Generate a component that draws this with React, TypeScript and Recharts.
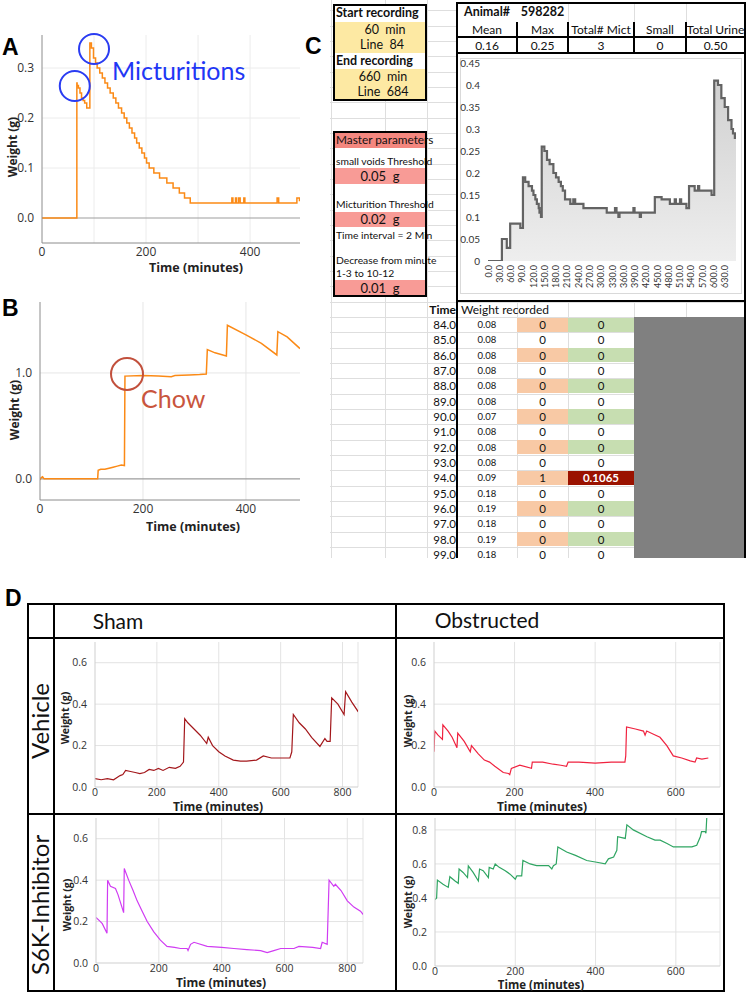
'use client'
import React from 'react'
import { LineChart, Line, AreaChart, Area, XAxis, YAxis, ReferenceLine, ReferenceDot } from 'recharts'

// panel A – one recording, two micturitions
const aTime = [0, 67, 67.5, 70, 73, 76, 79, 82, 86, 90, 92, 95, 99, 103, 106, 111, 116, 121, 126, 131, 137, 142, 147, 153, 158, 163, 168, 173, 178, 182, 187, 192, 197, 201, 206, 215, 226, 240, 252, 264, 274, 285, 365, 367, 372, 374, 378, 381, 388, 390, 452, 455, 490, 495, 500]
const aWeight = [0, 0.27, 0.265, 0.26, 0.25, 0.24, 0.235, 0.23, 0.22, 0.22, 0.35, 0.34, 0.32, 0.31, 0.3, 0.29, 0.28, 0.27, 0.26, 0.25, 0.24, 0.23, 0.22, 0.21, 0.2, 0.19, 0.18, 0.17, 0.16, 0.15, 0.14, 0.13, 0.12, 0.11, 0.1, 0.09, 0.08, 0.07, 0.06, 0.05, 0.04, 0.03, 0.04, 0.03, 0.04, 0.03, 0.04, 0.03, 0.04, 0.03, 0.04, 0.03, 0.04, 0.035, 0.04]

// panel B – chow dropped on the scale
const bTime = [0, 2, 5, 8, 112, 113, 118, 126, 134, 142, 150, 158, 164, 165, 200, 230, 255, 262, 290, 310, 323, 325, 340, 362, 364, 400, 430, 460, 462, 480, 505]
const bWeight = [-0.01, 0.01, 0.02, 0, 0, 0.08, 0.09, 0.09, 0.1, 0.11, 0.12, 0.13, 0.125, 0.97, 0.975, 0.97, 0.965, 0.975, 0.98, 0.985, 0.99, 1.22, 1.19, 1.16, 1.45, 1.36, 1.28, 1.17, 1.39, 1.34, 1.23]

// panel C – spreadsheet chart
const cTime = [0, 37, 50, 59, 86, 93, 99, 108, 117, 121, 126, 130, 135, 137, 141, 143, 150, 157, 164, 174, 181, 188, 194, 199, 205, 219, 227, 232, 254, 316, 338, 342, 347, 350, 387, 390, 404, 407, 444, 462, 484, 497, 500, 511, 514, 528, 535, 550, 559, 562, 595, 602, 612, 621, 630, 639, 648, 652, 657, 660]
const cWeight = [0, 0.05, 0.03, 0.085, 0.075, 0.19, 0.18, 0.17, 0.16, 0.15, 0.14, 0.13, 0.12, 0.11, 0.1, 0.26, 0.25, 0.23, 0.22, 0.2, 0.19, 0.18, 0.17, 0.16, 0.14, 0.13, 0.14, 0.13, 0.12, 0.11, 0.12, 0.11, 0.1, 0.11, 0.12, 0.11, 0.1, 0.11, 0.145, 0.14, 0.13, 0.14, 0.13, 0.14, 0.13, 0.12, 0.17, 0.16, 0.17, 0.16, 0.15, 0.41, 0.4, 0.37, 0.35, 0.32, 0.3, 0.29, 0.28, 0.28]
const cTicksX = [0, 30, 60, 90, 120, 150, 180, 210, 240, 270, 300, 330, 360, 390, 420, 450, 480, 510, 540, 570, 600, 630]
const cTicksY = [0, 0.05, 0.1, 0.15, 0.2, 0.25, 0.3, 0.35, 0.4, 0.45]

const summaryHeads = ['Mean', 'Max', 'Total# Mict', 'Small', 'Total Urine']
const summaryVals = ['0.16', '0.25', '3', '0', '0.50']
const tblTime = [84, 85, 86, 87, 88, 89, 90, 91, 92, 93, 94, 95, 96, 97, 98, 99]
const tblWeight = [0.08, 0.08, 0.08, 0.08, 0.08, 0.08, 0.07, 0.08, 0.08, 0.08, 0.09, 0.18, 0.19, 0.18, 0.19, 0.18]
const tblFlag = [0, 0, 0, 0, 0, 0, 0, 0, 0, 0, 1, 0, 0, 0, 0, 0]
const tblVolume = ['0', '0', '0', '0', '0', '0', '0', '0', '0', '0', '0.1065', '0', '0', '0', '0', '0']

// panel D – four groups
const d1Time = [0, 20, 40, 60, 81, 90, 99, 115, 130, 145, 160, 175, 190, 205, 220, 240, 260, 275, 286, 290, 300, 320, 340, 361, 366, 380, 400, 420, 447, 470, 490, 522, 544, 570, 600, 630, 636, 641, 660, 680, 700, 727, 743, 750, 760, 765, 785, 805, 810, 830, 851]
const d1Weight = [0.04, 0.035, 0.04, 0.035, 0.055, 0.06, 0.08, 0.075, 0.07, 0.065, 0.07, 0.085, 0.08, 0.09, 0.08, 0.095, 0.09, 0.1, 0.12, 0.33, 0.31, 0.28, 0.25, 0.21, 0.24, 0.2, 0.17, 0.15, 0.13, 0.125, 0.125, 0.13, 0.15, 0.14, 0.14, 0.14, 0.17, 0.35, 0.31, 0.28, 0.24, 0.196, 0.234, 0.22, 0.22, 0.43, 0.4, 0.35, 0.46, 0.41, 0.363]
const d2Time = [0, 2, 10, 21, 22, 35, 45, 57, 59, 75, 90, 93, 110, 125, 138, 151, 172, 185, 188, 192, 213, 242, 244, 270, 296, 315, 329, 333, 360, 400, 440, 474, 476, 478, 500, 520, 524, 528, 545, 561, 578, 594, 615, 636, 648, 652, 665, 681]
const d2Weight = [0.17, 0.27, 0.25, 0.23, 0.3, 0.27, 0.24, 0.19, 0.26, 0.22, 0.17, 0.2, 0.16, 0.13, 0.12, 0.1, 0.07, 0.065, 0.06, 0.09, 0.105, 0.09, 0.12, 0.12, 0.11, 0.105, 0.1, 0.12, 0.12, 0.115, 0.12, 0.12, 0.15, 0.29, 0.28, 0.27, 0.25, 0.27, 0.255, 0.24, 0.2, 0.15, 0.14, 0.126, 0.12, 0.14, 0.135, 0.14]
const d3Time = [0, 14, 20, 35, 37, 46, 62, 70, 88, 90, 104, 118, 131, 147, 163, 184, 205, 226, 250, 269, 290, 293, 301, 312, 354, 400, 439, 480, 524, 545, 566, 588, 630, 646, 690, 715, 720, 736, 742, 757, 762, 780, 800, 821, 842, 853]
const d3Weight = [0.22, 0.2, 0.19, 0.144, 0.4, 0.37, 0.36, 0.33, 0.243, 0.456, 0.4, 0.35, 0.3, 0.25, 0.2, 0.15, 0.11, 0.08, 0.075, 0.07, 0.07, 0.06, 0.09, 0.1, 0.08, 0.075, 0.07, 0.065, 0.06, 0.05, 0.06, 0.07, 0.07, 0.08, 0.075, 0.07, 0.1, 0.09, 0.4, 0.37, 0.38, 0.35, 0.3, 0.27, 0.25, 0.23]
const d4Time = [0, 4, 6, 20, 33, 37, 50, 58, 60, 70, 81, 83, 95, 108, 111, 120, 133, 135, 145, 150, 160, 175, 187, 200, 204, 216, 219, 237, 253, 283, 291, 295, 302, 306, 328, 350, 378, 403, 424, 432, 445, 453, 455, 474, 478, 494, 528, 548, 561, 578, 594, 640, 652, 661, 664, 673, 675, 677, 680]
const d4Weight = [0.39, 0.4, 0.505, 0.48, 0.462, 0.525, 0.5, 0.486, 0.57, 0.55, 0.52, 0.588, 0.55, 0.5, 0.57, 0.56, 0.52, 0.58, 0.57, 0.6, 0.58, 0.56, 0.54, 0.51, 0.53, 0.53, 0.62, 0.6, 0.59, 0.59, 0.57, 0.59, 0.6, 0.7, 0.67, 0.65, 0.62, 0.61, 0.6, 0.63, 0.64, 0.68, 0.76, 0.75, 0.83, 0.8, 0.76, 0.74, 0.74, 0.72, 0.7, 0.7, 0.71, 0.76, 0.79, 0.79, 0.78, 0.87, 0.9]

const AX = '"Open Sans", "Noto Sans", sans-serif'
const XL = 'Lato, "Open Sans", sans-serif'
const ORANGE = '#fb8a16'

type Pt = { t: number; w: number }
const pts = (ts: number[], ws: number[]): Pt[] => ts.map((t, i) => ({ t, w: ws[i] }))

interface Circle { t: number; w: number; r: number; color: string }
interface TraceProps {
  x1: number; y1: number; x2: number; y2: number
  yw: number; xh: number
  data: Pt[]
  color: string
  sw?: number
  xDomain: [number, number]; yDomain: [number, number]
  xTicks: number[]; yTicks: number[]
  gridX?: number[]; gridY?: number[]
  curve?: 'linear' | 'stepAfter'
  fs?: number
  gap?: number
  axisColor?: string
  gridColor?: string
  zero?: boolean
  edge?: boolean
  circles?: Circle[]
}

// x1..y2 is the plot rectangle on the page
function Trace({ x1, y1, x2, y2, yw, xh, data, color, sw = 1.5, xDomain, yDomain, xTicks, yTicks, gridX = [], gridY = [], curve = 'linear', fs = 11, gap = 3, axisColor = '#cfcfcf', gridColor = '#e3e3e3', zero, edge, circles = [] }: TraceProps) {
  const left = x1 - yw
  const top = y1 - 6
  return (
    <div style={{ position: 'absolute', left, top }}>
      <LineChart width={x2 - left + 4} height={y2 - top + xh} data={data} margin={{ top: 6, right: 4, bottom: 0, left: 0 }}>
        {gridY.map((v) => <ReferenceLine key={`y${v}`} y={v} stroke={gridColor} />)}
        {gridX.map((v) => <ReferenceLine key={`x${v}`} x={v} stroke={gridColor} />)}
        {edge && <ReferenceLine x={xDomain[1]} stroke={gridColor} />}
        {zero && <ReferenceLine y={0} stroke="#9d9d9d" strokeWidth={1.2} />}
        <XAxis type="number" dataKey="t" domain={xDomain} ticks={xTicks} interval={0} allowDataOverflow height={xh}
          tickLine={false} tickSize={2} tickMargin={gap} axisLine={{ stroke: axisColor }}
          tick={{ fontSize: fs, fill: '#333', fontFamily: AX }} />
        <YAxis type="number" domain={yDomain} ticks={yTicks} interval={0} allowDataOverflow width={yw}
          tickLine={false} tickSize={4} tickMargin={4} axisLine={{ stroke: axisColor }}
          tick={{ fontSize: fs, fill: '#333', fontFamily: AX }} tickFormatter={(v: number) => v.toFixed(1)} />
        <Line type={curve} dataKey="w" stroke={color} strokeWidth={sw} dot={false} isAnimationActive={false} />
        {circles.map((c, i) => (
          <ReferenceDot key={i} x={c.t} y={c.w} r={c.r} fill="none" stroke={c.color} strokeWidth={2} />
        ))}
      </LineChart>
    </div>
  )
}

function Label({ cx, cy, children, size = 12, bold = true, rotate = false, color = '#222', font = AX }: { cx: number; cy: number; children: React.ReactNode; size?: number; bold?: boolean; rotate?: boolean; color?: string; font?: string }) {
  return (
    <div style={{ position: 'absolute', left: cx, top: cy, transform: `translate(-50%, -50%)${rotate ? ' rotate(-90deg)' : ''}`, whiteSpace: 'nowrap', fontSize: size, fontWeight: bold ? 700 : 400, color, fontFamily: font, lineHeight: 1 }}>
      {children}
    </div>
  )
}

function Cell({ x, y, w, h, children, bg, align = 'center', size = 12, bold = false, color = '#111', pad = 3 }: { x: number; y: number; w: number; h: number; children?: React.ReactNode; bg?: string; align?: 'left' | 'center' | 'right'; size?: number; bold?: boolean; color?: string; pad?: number }) {
  return (
    <div style={{ position: 'absolute', left: x, top: y, width: w, height: h, background: bg, display: 'flex', alignItems: 'center', justifyContent: align === 'left' ? 'flex-start' : align === 'right' ? 'flex-end' : 'center', padding: `0 ${pad}px`, boxSizing: 'border-box', fontSize: size, fontWeight: bold ? 700 : 400, color, fontFamily: XL, whiteSpace: 'nowrap', lineHeight: 1 }}>
      {children}
    </div>
  )
}

const Rule = ({ x, y, w, h, c = '#000' }: { x: number; y: number; w: number; h: number; c?: string }) => (
  <div style={{ position: 'absolute', left: x, top: y, width: w, height: h, background: c }} />
)

const RotTick = (p: any) => {
  const { x, y, payload } = p
  return (
    <text x={x} y={y} transform={`rotate(-90 ${x} ${y})`} textAnchor="end" dominantBaseline="central" fontSize={9} fill="#333" fontFamily={XL}>
      {Number(payload.value).toFixed(1)}
    </text>
  )
}

function ExcelChart() {
  const x1 = 488, y1 = 63, x2 = 736, y2 = 261, yw = 30, xh = 34
  const left = x1 - yw
  const top = y1 - 8
  return (
    <div style={{ position: 'absolute', left, top }}>
      <AreaChart width={x2 - left + 4} height={y2 - top + xh} data={pts(cTime, cWeight)} margin={{ top: 8, right: 4, bottom: 0, left: 0 }}>
        <defs>
          <linearGradient id="cFill" x1="0" y1="0" x2="0" y2="1">
            <stop offset="0%" stopColor="#d0d0d0" />
            <stop offset="100%" stopColor="#eeeeee" />
          </linearGradient>
        </defs>
        <XAxis type="number" dataKey="t" domain={[0, 660]} ticks={cTicksX} interval={0} allowDataOverflow height={xh}
          axisLine={false} tickLine={false} tickSize={2} tickMargin={2} tick={<RotTick />} />
        <YAxis type="number" domain={[0, 0.45]} ticks={cTicksY} interval={0} allowDataOverflow width={yw}
          axisLine={false} tickLine={false} tickSize={4} tickMargin={4}
          tick={{ fontSize: 10, fill: '#333', fontFamily: XL }} tickFormatter={(v: number) => String(Number(v.toFixed(2)))} />
        <Area type="stepAfter" dataKey="w" stroke="#636363" strokeWidth={2.2} fill="url(#cFill)" fillOpacity={1} isAnimationActive={false} />
      </AreaChart>
    </div>
  )
}

function PanelC() {
  const rowH = 15.33
  const gridRows: number[] = []
  for (let y = 317 - rowH * 20; y < 560; y += rowH) if (y > 6) gridRows.push(y)
  const cols = [457, 517, 568, 634, 686, 745]
  return (
    <>
      {gridRows.map((y, i) => <Rule key={`r${i}`} x={330} y={y} w={415} h={1} c="#dedede" />)}
      {[331, 385, 427].map((x) => <Rule key={`v${x}`} x={x} y={0} w={1} h={558} c="#dedede" />)}
      {[517, 568, 634, 686].map((x) => <Rule key={`w${x}`} x={x} y={302} w={1} h={256} c="#dedede" />)}

      {/* recording window box */}
      <Cell x={333} y={4} w={94} h={18} bg="#fff" align="left" bold size={12.5}>Start recording</Cell>
      <Cell x={333} y={22} w={94} h={31} bg="#fde9a3" />
      <Cell x={340} y={22} w={90} h={16} size={12.5}>60&nbsp;&nbsp;min</Cell>
      <Cell x={333} y={38} w={98} h={15} size={12.5}>Line&nbsp;&nbsp;84</Cell>
      <Cell x={333} y={53} w={94} h={16} bg="#fff" align="left" bold size={12.5}>End recording</Cell>
      <Cell x={333} y={69} w={94} h={31} bg="#fde9a3" />
      <Cell x={336} y={69} w={94} h={16} size={12.5}>660&nbsp;&nbsp;min</Cell>
      <Cell x={336} y={85} w={94} h={15} size={12.5}>Line&nbsp;&nbsp;684</Cell>
      <div style={{ position: 'absolute', left: 333, top: 4, width: 94, height: 97, border: '2px solid #000', boxSizing: 'border-box' }} />

      {/* master parameters box */}
      <Cell x={333} y={131} w={94} h={165} bg="#fff" />
      <Cell x={333} y={131} w={94} h={17} bg="#f4877f" align="left" size={11.8} pad={3}>Master parameters</Cell>
      <Cell x={333} y={153} w={94} h={16} align="left" size={10.3}>small voids Threshold</Cell>
      <Cell x={333} y={168} w={94} h={16} bg="#f89b96" size={13}>0.05&nbsp;&nbsp;g</Cell>
      <Cell x={333} y={196} w={94} h={16} align="left" size={10.3}>Micturition Threshold</Cell>
      <Cell x={333} y={212} w={94} h={15} bg="#f89b96" size={13}>0.02&nbsp;&nbsp;g</Cell>
      <Cell x={333} y={227} w={94} h={16} align="left" size={10.3}>Time interval = 2 Min</Cell>
      <Cell x={333} y={252} w={94} h={16} align="left" size={10.3}>Decrease from minute</Cell>
      <Cell x={333} y={265} w={94} h={16} align="left" size={10.3}>1-3 to 10-12</Cell>
      <Cell x={333} y={280} w={94} h={16} bg="#f89b96" size={13}>0.01&nbsp;&nbsp;g</Cell>
      <div style={{ position: 'absolute', left: 333, top: 131, width: 94, height: 166, border: '2px solid #000', boxSizing: 'border-box' }} />

      {/* summary + chart block */}
      <Cell x={457} y={3} w={288} h={298} bg="#fff" />
      {[568, 634, 686].map((x) => <Rule key={`s${x}`} x={x} y={3} w={1} h={19} c="#dedede" />)}
      <Cell x={457} y={3} w={60} h={19} bold size={12.5}>Animal#</Cell>
      <Cell x={517} y={3} w={51} h={19} bold size={12.5}>598282</Cell>
      {summaryHeads.map((s, i) => (
        <Cell key={s} x={cols[i]} y={22} w={cols[i + 1] - cols[i]} h={15} size={12}>{s}</Cell>
      ))}
      {summaryVals.map((s, i) => (
        <Cell key={`v${i}`} x={cols[i]} y={38} w={cols[i + 1] - cols[i]} h={15} size={12}>{s}</Cell>
      ))}
      <Rule x={457} y={36} w={288} h={2} />
      <Rule x={457} y={52} w={288} h={2} />
      {[517, 568, 634, 686].map((x) => <Rule key={`b${x}`} x={x - 1} y={22} w={1.5} h={31} />)}
      <div style={{ position: 'absolute', left: 460, top: 58, width: 282, height: 236, border: '1px solid #d9d9d9', boxSizing: 'border-box' }} />
      <ExcelChart />
      <Rule x={457} y={300} w={288} h={2} />

      {/* recorded weights */}
      <Cell x={427} y={302} w={30} h={15} align="right" bold size={12} pad={1}>Time</Cell>
      <Cell x={459} y={302} w={120} h={15} align="left" size={12} pad={2}>Weight recorded</Cell>
      <Rule x={634} y={317} w={111} h={241} c="#808080" />
      {tblTime.map((t, i) => {
        const y = 317 + i * rowH
        const even = i % 2 === 0
        const hit = tblFlag[i] === 1
        return (
          <React.Fragment key={t}>
            <Cell x={427} y={y} w={30} h={rowH} align="right" size={11.5} pad={1}>{t.toFixed(1)}</Cell>
            <Cell x={457} y={y} w={60} h={rowH} size={9.5}>{tblWeight[i].toFixed(2)}</Cell>
            <Cell x={517} y={y + 0.5} w={51} h={rowH - 1} bg={even ? '#f8c9a5' : undefined} size={11.5}>{tblFlag[i]}</Cell>
            <Cell x={568} y={y + 0.5} w={66} h={rowH - 1} bg={hit ? '#9a1200' : even ? '#c7deb1' : undefined} size={11.5} bold={hit} color={hit ? '#fff' : '#111'}>{tblVolume[i]}</Cell>
          </React.Fragment>
        )
      })}
      <Rule x={456} y={3} w={2} h={555} />
      <Rule x={744} y={3} w={2} h={555} />
      <Rule x={456} y={2} w={290} h={2} />
    </>
  )
}

function PanelD() {
  const b = 2
  return (
    <>
      <div style={{ position: 'absolute', left: 27, top: 603, width: 698, height: 389, border: `${b}px solid #000`, boxSizing: 'border-box' }} />
      <Rule x={27} y={637} w={698} h={b} />
      <Rule x={27} y={813} w={698} h={b} />
      <Rule x={53} y={603} w={b} h={389} />
      <Rule x={395} y={603} w={b} h={389} />
      <Label cx={118} cy={620} size={21} bold={false} font={XL} color="#111">Sham</Label>
      <Label cx={487} cy={619} size={21} bold={false} font={XL} color="#111">Obstructed</Label>
      <Label cx={40} cy={721} size={24} bold={false} font={XL} rotate color="#111">Vehicle</Label>
      <Label cx={40} cy={905} size={24} bold={false} font={XL} rotate color="#111">S6K-Inhibitor</Label>

      <Trace x1={95} y1={642} x2={358} y2={787} yw={28} xh={16} gap={0} fs={10.5} data={pts(d1Time, d1Weight)} color="#a3171b" sw={1.2}
        xDomain={[0, 850]} yDomain={[0, 0.7]} xTicks={[0, 200, 400, 600, 800]} yTicks={[0, 0.2, 0.4, 0.6]}
        gridX={[200, 400, 600, 800]} gridY={[0.2, 0.4, 0.6]} edge />
      <Label cx={65} cy={718} size={10.5} rotate>Weight (g)</Label>
      <Label cx={218} cy={807} size={12}>Time (minutes)</Label>

      <Trace x1={434} y1={642} x2={720} y2={787} yw={28} xh={16} gap={0} fs={10.5} data={pts(d2Time, d2Weight)} color="#f0223f" sw={1.2}
        xDomain={[0, 710]} yDomain={[0, 0.7]} xTicks={[0, 200, 400, 600]} yTicks={[0, 0.2, 0.4, 0.6]}
        gridX={[200, 400, 600]} gridY={[0.2, 0.4, 0.6]} edge />
      <Label cx={408} cy={721} size={10.5} rotate>Weight (g)</Label>
      <Label cx={542} cy={807} size={12}>Time (minutes)</Label>

      <Trace x1={96} y1={818} x2={363} y2={963} yw={28} xh={16} gap={0} fs={10.5} data={pts(d3Time, d3Weight)} color="#d03cf2" sw={1.2}
        xDomain={[0, 850]} yDomain={[0, 0.7]} xTicks={[0, 200, 400, 600, 800]} yTicks={[0, 0.2, 0.4, 0.6]}
        gridX={[200, 400, 600, 800]} gridY={[0.2, 0.4, 0.6]} edge />
      <Label cx={67} cy={905} size={10.5} rotate>Weight (g)</Label>
      <Label cx={221} cy={983} size={12}>Time (minutes)</Label>

      <Trace x1={435} y1={818} x2={720} y2={966} yw={28} xh={14} gap={0} fs={10.5} data={pts(d4Time, d4Weight)} color="#2fa562" sw={1.2}
        xDomain={[0, 710]} yDomain={[0, 0.87]} xTicks={[0, 200, 400, 600]} yTicks={[0, 0.2, 0.4, 0.6, 0.8]}
        gridX={[200, 400, 600]} gridY={[0.2, 0.4, 0.6, 0.8]} edge />
      <Label cx={408} cy={902} size={10.5} rotate>Weight (g)</Label>
      <Label cx={541} cy={985} size={11.5}>Time (minutes)</Label>
    </>
  )
}

export default function App() {
  const letter = (l: number, t: number, s: string) => (
    <div style={{ position: 'absolute', left: l, top: t, fontSize: 23, fontWeight: 700, fontFamily: '"Liberation Sans", Arial, sans-serif', lineHeight: 1, color: '#000' }}>{s}</div>
  )
  return (
    <div style={{ position: 'absolute', left: 0, top: 0, width: 750, height: 993, background: '#fff', overflow: 'hidden' }}>
      {letter(2, 36, 'A')}
      <Trace x1={42} y1={35} x2={300} y2={243} yw={42} xh={20} data={pts(aTime, aWeight)} color={ORANGE} curve="stepAfter"
        xDomain={[0, 496]} yDomain={[-0.05, 0.366]} xTicks={[0, 200, 400]} yTicks={[0, 0.1, 0.2, 0.3]}
        gridX={[100, 200, 300, 400]} gridY={[0.1, 0.2, 0.3]} fs={12} gap={2} axisColor="#8c8c8c" gridColor="#ececec" zero
        circles={[{ t: 63, w: 0.264, r: 15, color: '#2a3cf2' }, { t: 100, w: 0.338, r: 15, color: '#2a3cf2' }]} />
      <Label cx={13} cy={147} size={12} rotate>Weight (g)</Label>
      <Label cx={196} cy={268} size={12.5}>Time (minutes)</Label>
      <div style={{ position: 'absolute', left: 112, top: 58, fontSize: 25, fontFamily: XL, color: '#1f37f5', lineHeight: 1 }}>Micturitions</div>

      {letter(2, 297, 'B')}
      <Trace x1={40} y1={302} x2={300} y2={500} yw={40} xh={20} data={pts(bTime, bWeight)} color={ORANGE}
        xDomain={[0, 505]} yDomain={[-0.2, 1.67]} xTicks={[0, 200, 400]} yTicks={[0, 1]}
        gridX={[200, 400]} gridY={[1]} fs={12} gap={2} axisColor="#8c8c8c" gridColor="#e6e6e6" zero
        circles={[{ t: 169, w: 0.99, r: 16, color: '#c2503c' }]} />
      <Label cx={15} cy={410} size={12} rotate>Weight (g)</Label>
      <Label cx={193} cy={527} size={12.5}>Time (minutes)</Label>
      <div style={{ position: 'absolute', left: 141, top: 386, fontSize: 25, fontFamily: XL, color: '#c9553d', lineHeight: 1 }}>Chow</div>

      {letter(305, 35, 'C')}
      <PanelC />

      {letter(5, 587, 'D')}
      <PanelD />
    </div>
  )
}
